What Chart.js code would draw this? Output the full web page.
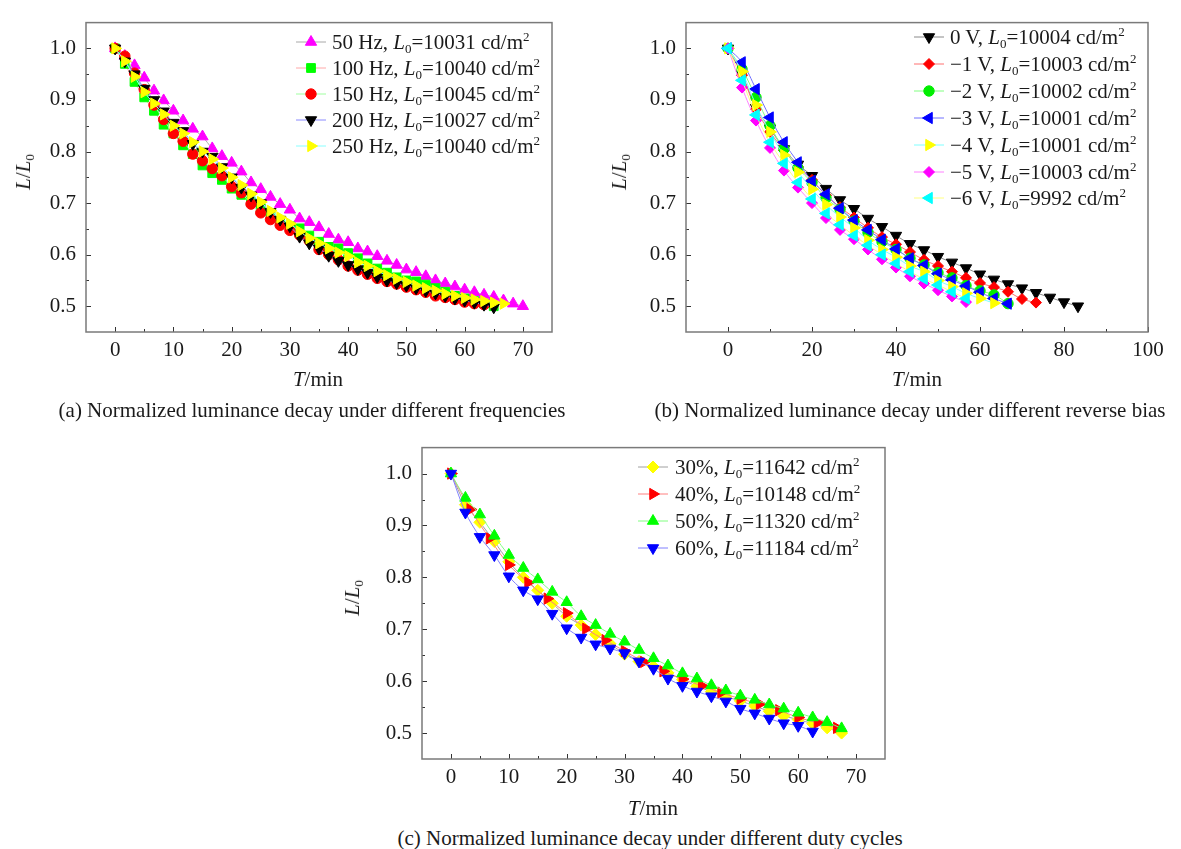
<!DOCTYPE html>
<html>
<head>
<meta charset="utf-8">
<script src="https://cdn.jsdelivr.net/npm/chart.js@4/dist/chart.umd.min.js"></script>
<style>
  body { margin: 0; background: #fff; }
  #wrap { position: relative; width: 1181px; height: 849px; font-family: "Liberation Serif", "Times New Roman", serif; color: #1a1a1a; overflow: hidden; }
  canvas { position: absolute; }
  .t { position: absolute; white-space: nowrap; font-size: 21px; line-height: 24px; }
  .t sub { font-size: 13px; vertical-align: -4px; line-height: 0; }
  .t sup { font-size: 13px; vertical-align: 8px; line-height: 0; }
  .c { transform: translate(-50%, -50%); }
  .r { transform: translate(-50%, -50%) rotate(-90deg); }
</style>
</head>
<body>
<div id="wrap">
  <canvas id="ca" width="590" height="400" style="left:0;top:0"></canvas>
  <canvas id="cb" width="581" height="400" style="left:600px;top:0"></canvas>
  <canvas id="cc" width="590" height="400" style="left:335px;top:425px"></canvas>
</div>
<script>
// 値はすべて図から目視で読んだもの
const Y_TICKS = [0.5, 0.6, 0.7, 0.8, 0.9, 1.0];
const XA_TICKS = [0, 10, 20, 30, 40, 50, 60, 70];
const XB_TICKS = [0, 20, 40, 60, 80, 100];
const XC_TICKS = [0, 10, 20, 30, 40, 50, 60, 70];

// (a) 周波数
const TA = [0, 1.67, 3.33, 5, 6.67, 8.33, 10, 11.67, 13.33, 15, 16.67, 18.33, 20, 21.67, 23.33, 25, 26.67, 28.33, 30, 31.67,
  33.33, 35, 36.67, 38.33, 40, 41.67, 43.33, 45, 46.67, 48.33, 50, 51.67, 53.33, 55, 56.67, 58.33, 60, 61.67, 63.33, 65,
  66.67, 68.33, 70];
const A_NAMES = ['50 Hz', '100 Hz', '150 Hz', '200 Hz', '250 Hz'];
const A_L0 = [10031, 10040, 10045, 10027, 10040];
const A_50 = [1.0, 0.985, 0.967, 0.943, 0.918, 0.899, 0.879, 0.86, 0.844, 0.829, 0.806, 0.791, 0.778, 0.761, 0.74, 0.727, 0.712,
  0.698, 0.687, 0.67, 0.663, 0.653, 0.64, 0.629, 0.624, 0.612, 0.606, 0.597, 0.588, 0.58, 0.571, 0.566, 0.558, 0.55, 0.544,
  0.538, 0.532, 0.527, 0.522, 0.518, 0.511, 0.505, 0.5];
const A_100 = [1.0, 0.97, 0.935, 0.905, 0.879, 0.852, 0.835, 0.812, 0.795, 0.773, 0.758, 0.745, 0.728, 0.716, 0.703, 0.69, 0.678,
  0.665, 0.655, 0.651, 0.637, 0.625, 0.615, 0.612, 0.603, 0.593, 0.583, 0.573, 0.565, 0.556, 0.55, 0.548, 0.542, 0.535, 0.528,
  0.52, 0.515, 0.51, 0.505, 0.5];
const A_150 = [1.0, 0.985, 0.952, 0.92, 0.89, 0.862, 0.835, 0.82, 0.795, 0.782, 0.767, 0.753, 0.732, 0.72, 0.698, 0.681, 0.668,
  0.657, 0.647, 0.638, 0.627, 0.61, 0.6, 0.59, 0.578, 0.57, 0.562, 0.554, 0.548, 0.543, 0.537, 0.532, 0.527, 0.52, 0.517,
  0.513, 0.508, 0.505, 0.503];
const A_200 = [1.0, 0.975, 0.95, 0.922, 0.9, 0.878, 0.856, 0.84, 0.815, 0.8, 0.79, 0.77, 0.75, 0.73, 0.715, 0.7, 0.683, 0.668,
  0.655, 0.635, 0.622, 0.612, 0.598, 0.588, 0.58, 0.572, 0.565, 0.557, 0.55, 0.545, 0.54, 0.535, 0.53, 0.525, 0.52, 0.515,
  0.511, 0.507, 0.503, 0.498];
const A_250 = [1.0, 0.975, 0.945, 0.915, 0.893, 0.872, 0.85, 0.835, 0.818, 0.8, 0.785, 0.768, 0.75, 0.735, 0.718, 0.702, 0.685,
  0.672, 0.66, 0.645, 0.632, 0.622, 0.612, 0.604, 0.597, 0.585, 0.578, 0.568, 0.56, 0.553, 0.547, 0.54, 0.535, 0.53, 0.524,
  0.52, 0.516, 0.513, 0.51, 0.507, 0.505];

// (b) 逆バイアス
const TB = [0, 3.33, 6.67, 10, 13.33, 16.67, 20, 23.33, 26.67, 30, 33.33, 36.67, 40, 43.33, 46.67, 50, 53.33, 56.67, 60, 63.33,
  66.67, 70, 73.33, 76.67, 80, 83.33];
const B_NAMES = ['0 V', '\u22121 V', '\u22122 V', '\u22123 V', '\u22124 V', '\u22125 V', '\u22126 V'];
const B_L0 = [10004, 10003, 10002, 10001, 10001, 10003, 9992];
const B_0 = [1.0, 0.95, 0.885, 0.845, 0.805, 0.775, 0.753, 0.728, 0.706, 0.689, 0.67, 0.654, 0.637, 0.621, 0.609, 0.596, 0.585,
  0.574, 0.562, 0.552, 0.543, 0.535, 0.526, 0.517, 0.508, 0.5];
const B_1 = [1.0, 0.948, 0.882, 0.838, 0.802, 0.77, 0.745, 0.715, 0.692, 0.672, 0.652, 0.634, 0.62, 0.605, 0.59, 0.578, 0.567,
  0.555, 0.545, 0.537, 0.528, 0.514, 0.507];
const B_2 = [1.0, 0.96, 0.905, 0.85, 0.805, 0.768, 0.74, 0.71, 0.688, 0.665, 0.643, 0.625, 0.61, 0.593, 0.58, 0.565, 0.555,
  0.54, 0.53, 0.522, 0.505];
const B_3 = [1.0, 0.973, 0.921, 0.866, 0.818, 0.779, 0.743, 0.717, 0.69, 0.667, 0.648, 0.629, 0.611, 0.593, 0.579, 0.563, 0.551,
  0.539, 0.527, 0.515, 0.505];
const B_4 = [1.0, 0.955, 0.89, 0.838, 0.793, 0.76, 0.727, 0.697, 0.673, 0.652, 0.628, 0.61, 0.595, 0.578, 0.567, 0.55, 0.538,
  0.525, 0.515, 0.506];
const B_5 = [1.0, 0.924, 0.86, 0.807, 0.763, 0.73, 0.7, 0.671, 0.648, 0.63, 0.61, 0.591, 0.575, 0.558, 0.544, 0.531, 0.519, 0.508];
const B_6 = [1.0, 0.938, 0.871, 0.818, 0.777, 0.74, 0.708, 0.68, 0.658, 0.637, 0.618, 0.6, 0.583, 0.567, 0.553, 0.541, 0.528, 0.515];

// (c) デューティ比
const TC = [0, 2.5, 5, 7.5, 10, 12.5, 15, 17.5, 20, 22.5, 25, 27.5, 30, 32.5, 35, 37.5, 40, 42.5, 45, 47.5, 50, 52.5, 55, 57.5,
  60, 62.5, 65, 67.5];
const TC40 = [0, 3.33, 6.67, 10, 13.33, 16.67, 20, 23.33, 26.67, 30, 33.33, 36.67, 40, 43.33, 46.67, 50, 53.33, 56.67, 60, 63.33, 66.67];
const C_NAMES = ['30%', '40%', '50%', '60%'];
const C_L0 = [11642, 10148, 11320, 11184];
const C_30 = [1.0, 0.94, 0.906, 0.869, 0.83, 0.8, 0.775, 0.75, 0.725, 0.708, 0.69, 0.672, 0.652, 0.638, 0.628, 0.616, 0.603,
  0.59, 0.58, 0.57, 0.562, 0.552, 0.542, 0.533, 0.526, 0.518, 0.51, 0.5];
const C_40 = [1.0, 0.931, 0.875, 0.824, 0.79, 0.759, 0.731, 0.701, 0.679, 0.658, 0.637, 0.619, 0.604, 0.591, 0.578, 0.566, 0.556,
  0.544, 0.53, 0.52, 0.51];
const C_50 = [1.0, 0.953, 0.921, 0.88, 0.843, 0.818, 0.796, 0.772, 0.752, 0.725, 0.708, 0.691, 0.676, 0.66, 0.644, 0.63, 0.615,
  0.605, 0.592, 0.582, 0.572, 0.564, 0.555, 0.547, 0.539, 0.53, 0.521, 0.509];
const C_60 = [1.0, 0.925, 0.878, 0.843, 0.802, 0.775, 0.758, 0.73, 0.702, 0.684, 0.671, 0.663, 0.654, 0.638, 0.624, 0.605, 0.591,
  0.58, 0.571, 0.561, 0.547, 0.538, 0.528, 0.519, 0.514, 0.503];

const FONT = { family: '"Liberation Serif", "Times New Roman", serif', size: 21 };
const INK = '#1a1a1a';

function ds(times, vals, mark, line, style, rot, r, tension) {
  return {
    data: vals.map((v, i) => ({ x: times[i], y: v })),
    borderColor: line, borderWidth: 1, tension: tension,
    pointBackgroundColor: mark, pointBorderColor: mark, pointBorderWidth: 1,
    pointStyle: style, pointRotation: rot, pointRadius: r, fill: false,
  };
}

// 枠・内向き目盛り・凡例マーカー
const framePlugin = {
  id: 'frame',
  afterDraw(chart, args, opts) {
    const { ctx, chartArea: a, scales: { x, y } } = chart;
    ctx.save();
    ctx.strokeStyle = '#333'; ctx.lineWidth = 1;
    const minors = (vals, min, max) => {
      const st = vals[1] - vals[0], out = [];
      for (let v = vals[0] - st / 2; v < max; v += st) if (v > min + 1e-9 && v < max - 1e-9) out.push(v);
      return out;
    };
    const xt = x.ticks.map(t => t.value), yt = y.ticks.map(t => t.value);
    ctx.beginPath();
    xt.forEach(v => { const p = Math.round(x.getPixelForValue(v)) + 0.5; ctx.moveTo(p, a.bottom); ctx.lineTo(p, a.bottom - 5); });
    minors(xt, x.min, x.max).forEach(v => { const p = Math.round(x.getPixelForValue(v)) + 0.5; ctx.moveTo(p, a.bottom); ctx.lineTo(p, a.bottom - 3); });
    yt.forEach(v => { const p = Math.round(y.getPixelForValue(v)) + 0.5; ctx.moveTo(a.left, p); ctx.lineTo(a.left + 5, p); });
    minors(yt, y.min, y.max).forEach(v => { const p = Math.round(y.getPixelForValue(v)) + 0.5; ctx.moveTo(a.left, p); ctx.lineTo(a.left + 3, p); });
    ctx.stroke();
    ctx.strokeStyle = '#7a7a7a'; ctx.lineWidth = 1.5;
    ctx.strokeRect(a.left, a.top, a.right - a.left, a.bottom - a.top);
    chart.data.datasets.forEach((d, i) => {
      const ly = opts.ys[i];
      ctx.strokeStyle = d.borderColor; ctx.lineWidth = 1;
      ctx.beginPath(); ctx.moveTo(opts.x - opts.half, ly); ctx.lineTo(opts.x + opts.half, ly); ctx.stroke();
      ctx.fillStyle = d.pointBackgroundColor; ctx.strokeStyle = d.pointBorderColor;
      Chart.helpers.drawPoint(ctx, { pointStyle: d.pointStyle, rotation: d.pointRotation, radius: d.pointRadius, borderWidth: 1 }, opts.x, ly);
    });
    ctx.restore();
  }
};

function makeChart(id, sets, xr, xTicks, pad, yW, xH, leg) {
  sets.forEach((s, i) => { s.order = sets.length - i; });
  return new Chart(document.getElementById(id), {
    type: 'line',
    data: { datasets: sets },
    options: {
      responsive: false, animation: false, devicePixelRatio: 1,
      layout: { padding: pad },
      plugins: { legend: { display: false }, tooltip: { enabled: false }, frame: leg },
      scales: {
        x: {
          type: 'linear', min: xr[0], max: xr[1],
          grid: { display: false, drawTicks: false }, border: { display: false },
          afterBuildTicks: s => { s.ticks = xTicks.map(v => ({ value: v })); },
          afterFit: s => { s.height = xH; },
          ticks: { padding: 6, font: FONT, color: INK, autoSkip: false, maxRotation: 0, callback: v => String(v) },
        },
        y: {
          type: 'linear', min: 0.45, max: 1.05,
          grid: { display: false, drawTicks: false }, border: { display: false },
          afterBuildTicks: s => { s.ticks = Y_TICKS.map(v => ({ value: v })); },
          afterFit: s => { s.width = yW; },
          ticks: { padding: 10, font: FONT, color: INK, autoSkip: false, callback: v => v.toFixed(1) },
        },
      },
    },
    plugins: [framePlugin],
  });
}

makeChart('ca', [
  ds(TA, A_50, '#ff00ff', '#a8a8a8', 'triangle', 0, 6.5, 0.3),
  ds(TA, A_100, '#00ff00', '#ffa8a8', 'rect', 0, 6.2, 0.3),
  ds(TA, A_150, '#ff0000', '#a0ffa0', 'circle', 0, 5.2, 0.3),
  ds(TA, A_200, '#000000', '#8a8aff', 'triangle', 180, 6.5, 0.3),
  ds(TA, A_250, '#ffff00', '#8affff', 'triangle', 90, 6.5, 0.3),
], [-5, 75], XA_TICKS, { left: 0, top: 13, right: 38, bottom: 0 }, 86, 68,
  { x: 311, half: 15, ys: [42, 68, 94, 120, 146] });

makeChart('cb', [
  ds(TB, B_0, '#000000', '#8a8a8a', 'triangle', 180, 6.5, 0.4),
  ds(TB, B_1, '#ff0000', '#ff7070', 'rectRot', 0, 5.5, 0.4),
  ds(TB, B_2, '#00ee00', '#80ff80', 'circle', 0, 5.2, 0.4),
  ds(TB, B_3, '#0000ff', '#7070ff', 'triangle', 270, 6.5, 0.4),
  ds(TB, B_4, '#ffff00', '#80ffff', 'triangle', 90, 6.5, 0.4),
  ds(TB, B_5, '#ff00ff', '#ff80ff', 'rectRot', 0, 5.5, 0.4),
  ds(TB, B_6, '#00ffff', '#ffff80', 'triangle', 270, 6.5, 0.4),
], [-10, 100], XB_TICKS, { left: 0, top: 13, right: 33, bottom: 0 }, 86, 68,
  { x: 329, half: 15, ys: [37, 64, 91, 118, 145, 172, 198] });

makeChart('cc', [
  ds(TC, C_30, '#ffff00', '#a0a0a0', 'rectRot', 0, 6, 0.3),
  ds(TC40, C_40, '#ff0000', '#ff8080', 'triangle', 90, 6.5, 0.3),
  ds(TC, C_50, '#00ff00', '#80ff80', 'triangle', 0, 6.5, 0.3),
  ds(TC, C_60, '#0000ff', '#8080ff', 'triangle', 180, 6.5, 0.3),
], [-5, 75], XC_TICKS, { left: 0, top: 16, right: 40, bottom: 0 }, 87, 66,
  { x: 318, half: 15, ys: [42, 69, 96, 123] });

// テキスト（凡例・軸タイトル・キャプション）
const wrap = document.getElementById('wrap');
function put(html, x, y, cls) {
  const d = document.createElement('div');
  d.className = 't ' + (cls || '');
  d.innerHTML = html;
  d.style.left = x + 'px'; d.style.top = y + 'px';
  wrap.appendChild(d);
  return d;
}
const legText = (n, l0) => `${n}, <i>L</i><sub>0</sub>=${l0} cd/m<sup>2</sup>`;
A_NAMES.forEach((n, i) => put(legText(n, A_L0[i]), 332, [42, 68, 94, 120, 146][i] - 12));
B_NAMES.forEach((n, i) => put(legText(n, B_L0[i]), 950, [37, 64, 91, 118, 145, 172, 198][i] - 12));
C_NAMES.forEach((n, i) => put(legText(n, C_L0[i]), 675, [467, 494, 521, 548][i] - 12));

const yTitle = '<i>L</i>/<i>L</i><sub>0</sub>';
const xTitle = '<i>T</i>/min';
put(yTitle, 23, 172, 'r');
put(yTitle, 619, 172, 'r');
put(yTitle, 352, 598, 'r');
put(xTitle, 318, 379, 'c');
put(xTitle, 917, 379, 'c');
put(xTitle, 653, 808, 'c');
put('(a) Normalized luminance decay under different frequencies', 312, 410, 'c');
put('(b) Normalized luminance decay under different reverse bias', 910, 410, 'c');
put('(c) Normalized luminance decay under different duty cycles', 650, 838, 'c');
</script>
</body>
</html>
